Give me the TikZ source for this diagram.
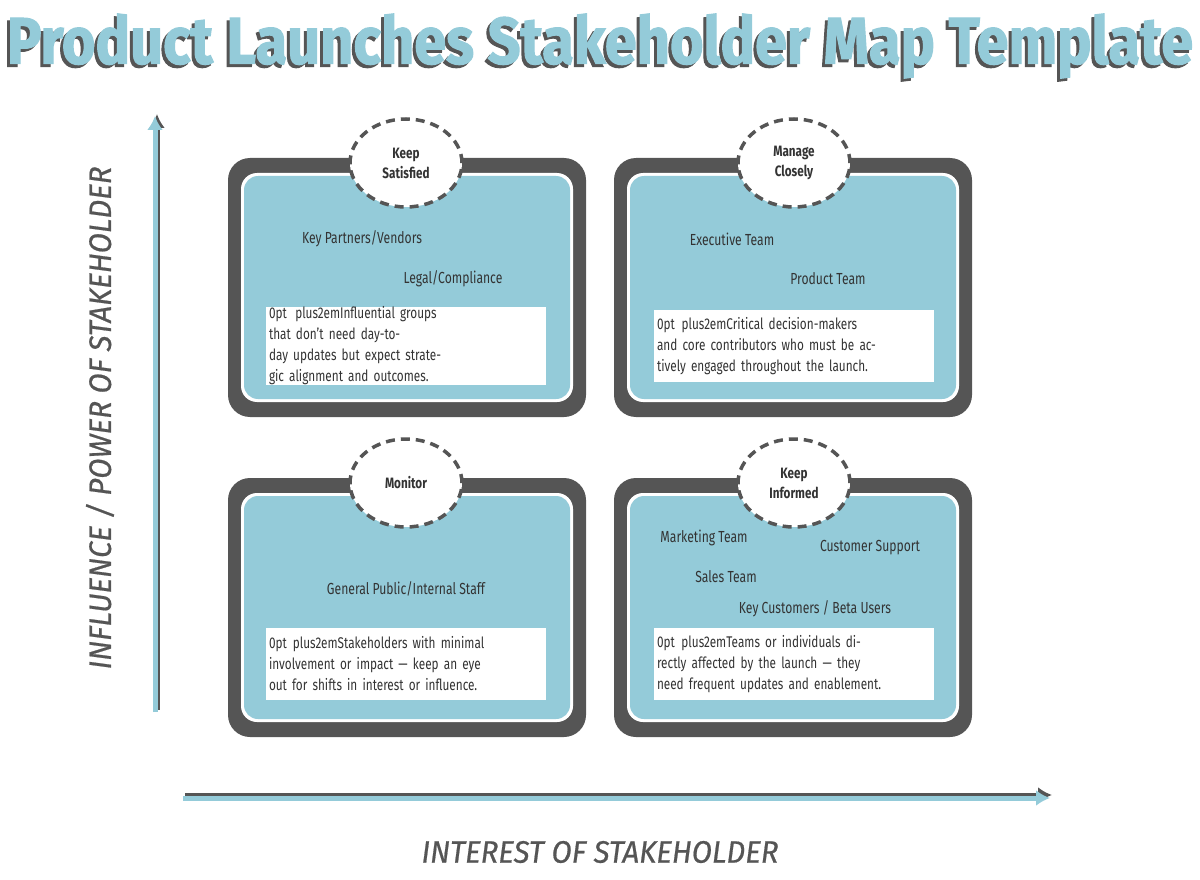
\documentclass[tikz,border=0pt]{standalone}
\usepackage{fontspec}
\setmainfont{Fira Sans}
\newfontfamily\cond{Fira Sans}[FakeStretch=0.76]
\newfontfamily\condb{Fira Sans}[FakeStretch=0.78,UprightFont=* Bold]
\newfontfamily\titlef{Fira Sans}[FakeStretch=0.78,UprightFont=* Bold,FakeBold=1.5]
\newfontfamily\axf{Fira Sans}[FakeStretch=0.95,UprightFont=* Italic,FakeBold=0.6]
\usetikzlibrary{shapes.geometric,arrows.meta}
\definecolor{myblue}{HTML}{94CBD9}
\definecolor{mydark}{HTML}{555555}
\definecolor{mytext}{HTML}{333333}
\tikzset{
  outer/.style={fill=mydark,rounded corners=22pt},
  gapw/.style={fill=white,rounded corners=16pt},
  inner/.style={fill=myblue,rounded corners=14pt},
  badge/.style={ellipse,draw=mydark,line width=3.5pt,dash pattern=on 9pt off 6pt,fill=white,minimum width=112pt,minimum height=88pt,align=center,font=\condb\fontsize{15}{20}\selectfont,text=mytext},
  item/.style={font=\cond\fontsize{16}{18}\selectfont,text=mytext},
  desc/.style={fill=white,minimum width=280pt,minimum height=72pt,text width=274pt,align=center,font=\cond\fontsize{15.5}{21}\selectfont\hyphenpenalty=10000,text=mytext,inner sep=0pt},
  axis/.style={font=\axf\fontsize{31}{31}\selectfont,text=mydark},
  ttl/.style={font=\titlef\fontsize{66}{66}\selectfont},
}
\begin{document}
\begin{tikzpicture}[x=1pt,y=-1pt]
\useasboundingbox (0,0) rectangle (1200,880);
% title
\node[ttl,text=mydark] (tsh) at (597,49) {\scalebox{1.12}[1]{Product Launches Stakeholder Map Template}};
\node[ttl,text=myblue] (title) at (600,46) {\scalebox{1.12}[1]{Product Launches Stakeholder Map Template}};
% quadrants
\foreach \x/\y/\n in {228/158/a,614/158/b,228/478/c,614/478/d}{
  \fill[outer] (\x,\y) rectangle ++(358,259);
  \fill[gapw] (\x+13,\y+15) rectangle ++(332,229);
  \fill[inner] (\x+16,\y+18) rectangle ++(326,223);
}
\node[badge] (ka) at (406,163) {Keep\\Satisfied};
\node[badge] (kb) at (794,163) {Manage\\Closely};
\node[badge] (kc) at (406,483) {Monitor};
\node[badge] (kd) at (794,483) {Keep\\Informed};
\node[item] (a1) at (362,239) {Key Partners/Vendors};
\node[item] (a2) at (453,279) {Legal/Compliance};
\node[item] (b1) at (732,239) {Executive Team};
\node[item] (b2) at (828,279) {Product Team};
\node[item] (c1) at (406,589) {General Public/Internal Staff};
\node[item] (d1) at (704,538) {Marketing Team};
\node[item] (d2) at (870,548) {Customer Support};
\node[item] (d3) at (726,577) {Sales Team};
\node[item] (d4) at (815,609) {Key Customers / Beta Users};
\node[desc] (da) at (406,346) {Influential groups that don’t need day-to-\\day updates but expect strategic alignment and outcomes.};
\node[desc] (db) at (794,346) {Critical decision-makers and core contributors who must be actively engaged throughout the launch.};
\node[desc] (dc) at (406,664) {Stakeholders with minimal involvement or impact — keep an eye out for shifts in interest or influence.};
\node[desc] (dd) at (794,664) {Teams or individuals directly affected by the launch — they need frequent updates and enablement.};
% axes
\coordinate (v0) at (155,712); \coordinate (v1) at (155,116);
\coordinate (h0) at (183,798); \coordinate (h1) at (1050,798);
\draw[mydark,line width=5pt,-{Latex[length=14pt,width=16pt]}] ([xshift=2pt,yshift=2pt]v0) -- ([xshift=2pt,yshift=2pt]v1);
\draw[myblue,line width=5pt,-{Latex[length=14pt,width=16pt]}] (v0) -- (v1);
\draw[mydark,line width=5pt,-{Latex[length=14pt,width=16pt]}] ([xshift=2pt,yshift=3pt]h0) -- ([xshift=2pt,yshift=3pt]h1);
\draw[myblue,line width=5pt,-{Latex[length=14pt,width=16pt]}] (h0) -- (h1);
\node[axis,rotate=90] (yl) at (100,418) {INFLUENCE / POWER OF STAKEHOLDER};
\node[axis] (xl) at (600,852) {INTEREST OF STAKEHOLDER};
\end{tikzpicture}
\end{document}
